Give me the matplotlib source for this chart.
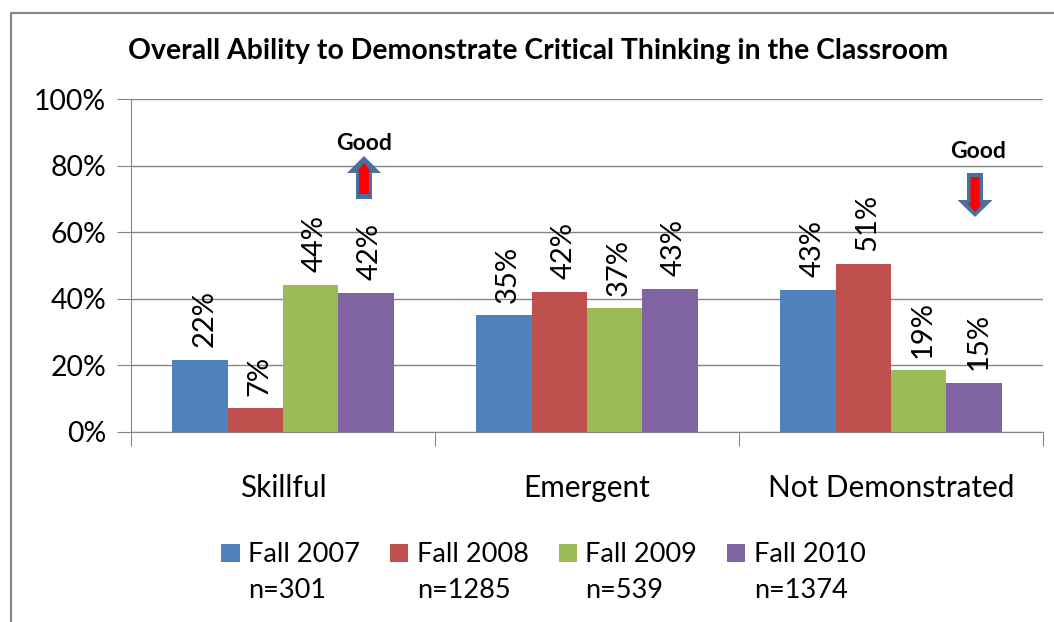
import numpy as np
import matplotlib
matplotlib.use("Agg")
import matplotlib.pyplot as plt
from matplotlib.lines import Line2D
from matplotlib.patches import Polygon
from matplotlib.ticker import FuncFormatter
from matplotlib.transforms import Affine2D

categories = ["Skillful", "Emergent", "Not Demonstrated"]
series_names = ["Fall 2007", "Fall 2008", "Fall 2009", "Fall 2010"]
sample_sizes = ["n=301", "n=1285", "n=539", "n=1374"]
fall_2007 = [21.7, 35.1, 42.7]
fall_2008 = [7.2, 42.1, 50.5]
fall_2009 = [44.2, 37.1, 18.6]
fall_2010 = [41.8, 43.0, 14.8]
labels_2007 = ["22%", "35%", "43%"]
labels_2008 = ["7%", "42%", "51%"]
labels_2009 = ["44%", "37%", "19%"]
labels_2010 = ["42%", "43%", "15%"]
y_ticks = [0, 20, 40, 60, 80, 100]

colors = ["#4F81BD", "#C0504D", "#9BBB59", "#8064A2"]
GRAY = "#868686"
FONT = "Lato"

plt.rcParams["font.family"] = FONT

W, H = 1054, 622
fig = plt.figure(figsize=(W / 100, H / 100), dpi=100)
ax = fig.add_axes([131 / W, (H - 432) / H, 912 / W, 333 / H])

# reference pixel coordinates, for the frame and the drawn-on arrows
px = Affine2D().scale(1 / W, -1 / H).translate(0, 1) + fig.transFigure

values = [fall_2007, fall_2008, fall_2009, fall_2010]
bar_labels = [labels_2007, labels_2008, labels_2009, labels_2010]
x = np.arange(len(categories)) + 0.5
width = 0.182

for i in range(len(values)):
    pos = x + (i - 1.5) * width
    bars = ax.bar(pos, values[i], width, color=colors[i], label=series_names[i])
    texts = ax.bar_label(bars, labels=bar_labels[i], rotation=90, padding=9, fontsize=21, color="black")
    for t in texts:
        t.xyann = (3, t.xyann[1])

ax.set_xlim(0, 3)
ax.set_ylim(0, 100)
ax.set_yticks(y_ticks)
ax.yaxis.set_major_formatter(FuncFormatter(lambda v, p: "{:.0f}%".format(v)))
ax.set_xticks([0, 1, 2, 3])
ax.set_xticks(x, minor=True)
ax.set_xticklabels([])
ax.set_xticklabels(categories, minor=True)
ax.grid(axis="y", color=GRAY, linewidth=1)
ax.set_axisbelow(True)
for s in ["top", "right"]:
    ax.spines[s].set_visible(False)
for s in ["left", "bottom"]:
    ax.spines[s].set_color(GRAY)
ax.tick_params(axis="y", which="major", length=10, color=GRAY, labelsize=20.4, pad=8)
ax.tick_params(axis="x", which="major", length=10, color=GRAY)
ax.tick_params(axis="x", which="minor", length=0, labelsize=21.4, pad=30)

fig.text(538 / W, 1 - 51 / H, "Overall Ability to Demonstrate Critical Thinking in the Classroom",
         ha="center", va="center", fontsize=20.4, fontweight="bold")

leg = fig.legend(loc="center left", bbox_to_anchor=(202.5 / W, 1 - 555 / H), ncol=4, frameon=False,
                 fontsize=19.5, handlelength=0.68, handleheight=0.68, handletextpad=0.3,
                 columnspacing=1.11, borderpad=0.2)
for name, left in zip(sample_sizes, [248, 417, 585, 754]):
    fig.text(left / W, 1 - 590 / H, name, ha="left", va="center", fontsize=19.5)


def draw_arrow(cx, tip, base, head_y, head_half, shaft_half, color):
    pts = [(cx, tip), (cx + head_half, head_y), (cx + shaft_half, head_y), (cx + shaft_half, base),
           (cx - shaft_half, base), (cx - shaft_half, head_y), (cx - head_half, head_y)]
    fig.add_artist(Polygon(pts, closed=True, facecolor=color, edgecolor="none", transform=px))


draw_arrow(364, 156, 199, 173, 17, 8, "#4A6FA0")
draw_arrow(364, 163, 194, 172, 7, 5, "#FF0000")
draw_arrow(975, 217, 173, 200, 17.5, 8, "#4A6FA0")
draw_arrow(975, 212, 177, 203, 7.5, 4.5, "#FF0000")

fig.text(364 / W, 1 - 144 / H, "Good", ha="center", va="center", fontsize=16.5, fontweight="bold")
fig.text(978 / W, 1 - 152 / H, "Good", ha="center", va="center", fontsize=16.5, fontweight="bold")

# outer frame of the chart, only top and left are in the crop
fig.add_artist(Line2D([10.5, 10.5, W], [H, 12.5, 12.5], color=GRAY, linewidth=1.5, transform=px))

fig.savefig("out.png", dpi=100)
